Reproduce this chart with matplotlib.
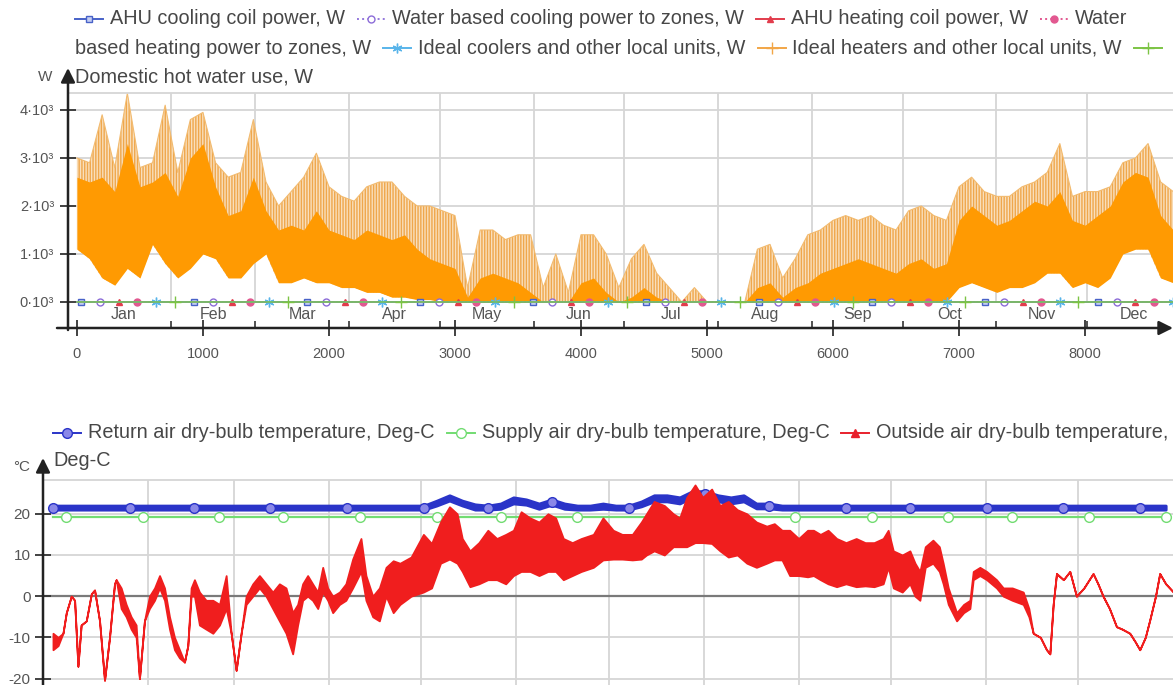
import numpy as np
import matplotlib
matplotlib.use("Agg")
import matplotlib.pyplot as plt
from matplotlib.lines import Line2D
from matplotlib.patches import FancyArrowPatch

plt.rcParams['font.family'] = ['Liberation Sans', 'DejaVu Sans']
plt.rcParams['hatch.linewidth'] = 1.0

# ---------------- data ----------------
months = ['Jan', 'Feb', 'Mar', 'Apr', 'May', 'Jun', 'Jul', 'Aug', 'Sep', 'Oct', 'Nov', 'Dec']
month_start = [0, 744, 1416, 2160, 2880, 3624, 4344, 5088, 5832, 6552, 7296, 8016]
month_mid = [372, 1080, 1788, 2520, 3252, 3984, 4716, 5460, 6192, 6924, 7656, 8388]

hour_ticks = [0, 1000, 2000, 3000, 4000, 5000, 6000, 7000, 8000]
power_ticks = [0, 1000, 2000, 3000, 4000]
power_labels = ['0·10³', '1·10³', '2·10³', '3·10³', '4·10³']
temp_ticks = [-20, -10, 0, 10, 20]
temp_labels = ['-20', '-10', '0', '10', '20']

# sampling grid (hours of year) for the envelopes below
hours = list(range(0, 8800, 100))

# Ideal heaters and other local units, W  (lower edge / dense core top / light peaks)
heat_lo = [1100, 900, 500, 350, 700, 500, 1200, 800, 500, 700,
           1000, 900, 500, 500, 800, 1000, 400, 400, 500, 400,
           400, 300, 300, 200, 200, 100, 100, 50, 50, 0,
           0, 0, 0, 0, 0, 0, 0, 0, 0, 0,
           0, 0, 0, 0, 0, 0, 0, 0, 0, 0,
           0, 0, 0, 0, 0, 0, 0, 0, 0, 0,
           0, 0, 0, 0, 0, 0, 0, 0, 0, 0,
           300, 400, 300, 200, 300, 300, 400, 600, 600, 300,
           400, 300, 500, 1000, 1100, 1100, 500, 400]
heat_core = [2600, 2500, 2600, 2300, 3300, 2400, 2500, 2700, 2200, 3000,
             3300, 2400, 1800, 1900, 2600, 1900, 1500, 1600, 1500, 1900,
             1500, 1400, 1300, 1500, 1400, 1300, 1400, 1100, 900, 800,
             700, 100, 500, 600, 500, 400, 200, 0, 0, 0,
             400, 500, 200, 0, 100, 300, 100, 0, 0, 0,
             0, 0, 0, 0, 300, 400, 100, 300, 400, 600,
             700, 800, 900, 800, 700, 600, 800, 900, 700, 800,
             1700, 2000, 1800, 1600, 1700, 1900, 2100, 2000, 2300, 1700,
             1600, 1800, 2000, 2500, 2700, 2600, 1800, 1500]
heat_peak = [3000, 2900, 3900, 2800, 4350, 2800, 2900, 4100, 2700, 3800,
             3950, 2900, 2600, 2700, 3800, 2500, 2000, 2300, 2600, 3100,
             2400, 2200, 2100, 2400, 2500, 2500, 2200, 2000, 2000, 1900,
             1800, 300, 1500, 1500, 1300, 1400, 1400, 300, 1000, 200,
             1400, 1400, 1000, 300, 900, 1200, 600, 300, 0, 300,
             0, 0, 0, 0, 1100, 1200, 500, 900, 1400, 1500,
             1700, 1800, 1700, 1800, 1600, 1500, 1900, 2000, 1800, 1700,
             2400, 2600, 2300, 2200, 2200, 2400, 2500, 2700, 3300, 2200,
             2300, 2300, 2400, 2900, 3000, 3300, 2500, 2300]

# the other six power series stay at zero all year
hours_year = np.arange(8760)
ahu_cooling = np.zeros(8760)
water_cooling = np.zeros(8760)
ahu_heating = np.zeros(8760)
water_heating = np.zeros(8760)
ideal_coolers = np.zeros(8760)
dhw_use = np.zeros(8760)

# Return air dry-bulb temperature (band)
return_lo = [21.0] * 30 + [22.0, 23.2, 22.0, 21.0, 21.0, 21.2, 22.5, 22.2, 21.2, 22.2,
                           21.2, 21.0, 21.0, 21.2, 21.0, 21.0, 21.8, 23.0, 23.0, 22.5,
                           24.0, 24.0, 23.0, 22.5, 23.0, 21.3, 21.3, 21.0] + [21.0] * 30
return_hi = [22.0] * 30 + [23.2, 24.5, 23.2, 22.3, 22.0, 22.5, 24.0, 23.5, 22.5, 23.5,
                           22.5, 22.0, 22.0, 22.5, 22.0, 22.0, 23.0, 24.5, 24.5, 24.0,
                           25.5, 25.5, 24.5, 24.0, 24.5, 22.5, 22.5, 22.0] + [22.0] * 30
# Supply air dry-bulb temperature
supply = [19.2] * 88

# Outside air dry-bulb temperature (hour, low, high)
out_hours = [0, 40, 78, 104, 143, 169, 195, 220, 260, 300, 325, 364, 403, 442, 481, 494,
             533, 572, 611, 650, 676, 715, 754, 794, 833, 872, 911, 950, 989, 1028, 1054,
             1080, 1106, 1145, 1197, 1250, 1302, 1354, 1393, 1432, 1471, 1510, 1562, 1614,
             1666, 1718, 1770, 1822, 1874, 1913, 1952, 1991, 2030, 2070, 2109, 2148, 2187,
             2240, 2290, 2343, 2408, 2447, 2500, 2552, 2604, 2660, 2713, 2800, 2896, 2960,
             3030, 3100, 3160, 3200, 3260, 3330, 3400, 3470, 3540, 3600, 3660, 3730, 3800,
             3870, 3930, 3990, 4060, 4130, 4225, 4300, 4380, 4450, 4530, 4600, 4640, 4700,
             4780, 4850, 4900, 4955, 5020, 5080, 5150, 5215, 5280, 5350, 5425, 5500, 5580,
             5640, 5700, 5760, 5830, 5900, 5946, 6000, 6060, 6127, 6200, 6280, 6350, 6420,
             6491, 6530, 6570, 6640, 6700, 6740, 6778, 6820, 6880, 6930, 6960, 7000, 7065,
             7120, 7169, 7195, 7247, 7300, 7377, 7430, 7500, 7586, 7630, 7664, 7720, 7768,
             7794, 7820, 7846, 7900, 7950, 8002, 8060, 8132, 8170, 8210, 8260, 8315, 8360,
             8419, 8460, 8497, 8540, 8575, 8620, 8653, 8700, 8760]
out_lo = [-13, -12, -9, -4, 0, -1, -17, -7, -6, 0.6, 1.5, -6, -20.4, -10, 3, 4,
          -3, -5, -8, -10, -20, -6, -3, -1, 2, -1, -8, -13, -15, -16, -12,
          0, 0, -7, -8, -9, -7, -3, -9, -18, -9, -2, 0, 2,
          0, -3, -6, -9, -14, -7, -1, 0, -1, -3, 1, -1, -4,
          -2, -1, 2, 6, -1, -5, -6, 0, -4, -2, 0, 1, 2,
          8, 9, 8, 6, 2.3, 3, 4, 4, 3, 5, 6, 6, 5,
          6, 6, 4, 5, 6, 7, 8.8, 9, 9, 8.8, 9, 10, 11,
          10, 12, 12, 12, 13, 13, 12.8, 11, 9.5, 10, 8, 7, 8,
          8.8, 8.8, 5, 5, 4.7, 5, 4, 3, 2.3, 3, 2.3, 2.5, 2.3,
          3, 7, 2, 1, 3, 0, -1, 7, 8, 6, 3, -2, -6,
          -4, -3, 4, 5, 4, 2, 0, -1, -2, -5, -9, -10, -13,
          -14, -2, 5.5, 4, 6, 0, 2, 5.5, 3, 0, -3, -7.4, -8,
          -9, -11, -13, -10, -5.8, 0, 5.5, 3, 1]
out_hi = [-9, -10, -9, -4, 0, -1, -17, -7, -6, 0.6, 1.5, -6, -20.4, -10, 3, 4,
          2, -2, -5, -7, -20, -6, 0, 2, 5, 2, -5, -10, -13, -16, -12,
          2, 4, 1, -1, -1, -2, 5, -9, -18, -9, 0, 3, 5,
          3, 1, 3, 2, -4, -2, 3, 5, 3, 1, 7, 2, 0,
          1, 3, 9, 14, 5, 0, 2, 7, 8.6, 8, 9.5, 15, 12.8,
          18, 21.7, 20, 14, 11, 13, 16, 14, 15, 16, 20.5, 19, 18,
          20, 19, 14, 13, 14, 15, 19, 16, 15, 15, 18, 20, 23,
          22, 20, 19, 24, 27, 24, 26, 22, 23, 21, 20, 18, 17,
          17.6, 16, 16, 14, 16, 16, 15, 16, 14, 13, 14, 13, 13,
          14, 16, 11, 10, 11, 8, 6, 12, 13.6, 12, 8, 2, -4,
          -2, -1, 6, 7, 6, 4, 2, 2, 1, -3, -9, -10, -13,
          -14, -2, 5.5, 4, 6, 0, 2, 5.5, 3, 0, -3, -7.4, -8,
          -9, -11, -13, -10, -5.8, 0, 5.5, 3, 1]

# ---------------- figure ----------------
W, H = 1173, 685
fig = plt.figure(figsize=(W / 100, H / 100), dpi=100)
fig.patch.set_facecolor('white')


def fx(px):
    return px / W


def fy(py):
    return 1 - py / H


GRID = '#d6d6d6'
TXT = '#474747'
renderer = fig.canvas.get_renderer()

# styles of the series
s_ahu_cool = dict(color='#4862c8', marker='s', mfc='#c4cdf2', mec='#4862c8', ms=5, ls='-')
s_water_cool = dict(color='#9478dc', marker='o', mfc='white', mec='#8c6cd8', ms=5, ls=':')
s_ahu_heat = dict(color='#e23c4c', marker='^', mfc='#e23c4c', mec='#e23c4c', ms=5, ls='-')
s_water_heat = dict(color='#e25890', marker='o', mfc='#e25890', mec='#e25890', ms=5, ls=':')
s_coolers = dict(color='#58b4ea', marker=(6, 2, 0), mec='#58b4ea', ms=7, ls='-')
s_heaters = dict(color='#f2a646', marker='+', mec='#f2a646', ms=8, ls='-')
s_dhw = dict(color='#7cc444', marker='+', mec='#7cc444', ms=8, ls='-')
s_return = dict(color='#2a34c8', marker='o', mfc='#8a88e8', mec='#2a34c8', ms=7, ls='-')
s_supply = dict(color='#72dc72', marker='o', mfc='white', mec='#72dc72', ms=7, ls='-')
s_outside = dict(color='#e8202c', marker='^', mfc='#e8202c', mec='#e8202c', ms=6, ls='-')


def legend_row(x, ypx, parts, fs=14.3):
    y = fy(ypx)
    for st, label in parts:
        if st is not None:
            fig.add_artist(Line2D([fx(x), fx(x + 14), fx(x + 28)], [y, y, y],
                                  transform=fig.transFigure, lw=1.4, markevery=[1], **st))
            x += 35
        if label:
            t = fig.text(fx(x), y, label, fontsize=fs, color=TXT, va='center')
            x = t.get_window_extent(renderer).x1 + 12


def axis_arrow(p0, p1):
    fig.add_artist(FancyArrowPatch((fx(p0[0]), fy(p0[1])), (fx(p1[0]), fy(p1[1])),
                                   transform=fig.transFigure, color='#222222', lw=1.8,
                                   arrowstyle='-|>,head_length=0.7,head_width=0.35',
                                   mutation_scale=12, shrinkA=0, shrinkB=0))


# ---------------- top panel: powers ----------------
legend_row(75, 19, [(s_ahu_cool, 'AHU cooling coil power, W'),
                    (s_water_cool, 'Water based cooling power to zones, W'),
                    (s_ahu_heat, 'AHU heating coil power, W'),
                    (s_water_heat, 'Water')])
legend_row(75, 48, [(None, 'based heating power to zones, W'),
                    (s_coolers, 'Ideal coolers and other local units, W'),
                    (s_heaters, 'Ideal heaters and other local units, W'),
                    (s_dhw, '')])
legend_row(75, 77, [(None, 'Domestic hot water use, W')])

ax1 = fig.add_axes([fx(68), fy(328), fx(1173) - fx(68), (328 - 93) / H])
ax1.set_xlim(-71, 8698)
ax1.set_ylim(-542, 4354)
for sp in ['left', 'right', 'bottom']:
    ax1.spines[sp].set_visible(False)
ax1.spines['top'].set_color(GRID)
ax1.spines['top'].set_linewidth(1.3)

ax1.vlines(month_start[1:], 0, 4354, color=GRID, lw=1.3, zorder=0)
ax1.hlines(power_ticks[1:], -71, 8698, color=GRID, lw=1.3, zorder=0)

# light, stripy hourly peaks and the dense core below them
ax1.fill_between(hours, heat_lo, heat_peak, facecolor='#f9dfbc', edgecolor='#efa74c',
                 hatch='||||||', lw=0, zorder=2)
ax1.plot(hours, heat_peak, color='#f2bb70', lw=0.8, zorder=2)
ax1.fill_between(hours, heat_lo, heat_core, color='#ff9a02', lw=0, zorder=3)

zero_series = [(ahu_cooling, s_ahu_cool), (water_cooling, s_water_cool),
               (ahu_heating, s_ahu_heat), (water_heating, s_water_heat),
               (ideal_coolers, s_coolers), (dhw_use, s_dhw)]
for k, (vals, st) in enumerate(zero_series):
    ax1.plot(hours_year, vals, lw=1.0, markevery=(0.004 + 0.0165 * k, 0.1), zorder=5,
             clip_on=False, **st)

for name, mid in zip(months, month_mid):
    ax1.text(mid, -271, name, ha='center', va='center', fontsize=11.5, color='#555555')

ax1.set_xticks(hour_ticks)
ax1.set_xticks(month_start[1:], minor=True)
ax1.tick_params(axis='x', which='major', direction='inout', length=12, width=1.3,
                color='#333333', labelsize=10.5, labelcolor='#555555', pad=8)
ax1.tick_params(axis='x', which='minor', direction='in', length=5, width=1.2, color='#333333')
ax1.set_yticks(power_ticks, power_labels)
ax1.tick_params(axis='y', direction='inout', length=12, width=1.3, color='#333333',
                labelsize=10.5, labelcolor='#555555', pad=4)

axis_arrow((68, 330), (68, 68))
axis_arrow((57, 328), (1173, 328))
fig.text(fx(45), fy(77), 'W', fontsize=11, color='#555555', ha='center', va='center')

# ---------------- bottom panel: temperatures ----------------
legend_row(53, 433, [(s_return, 'Return air dry-bulb temperature, Deg-C'),
                     (s_supply, 'Supply air dry-bulb temperature, Deg-C'),
                     (s_outside, 'Outside air dry-bulb temperature,')])
legend_row(53, 460, [(None, 'Deg-C')])

ax2 = fig.add_axes([fx(43), fy(700), fx(1173) - fx(43), 220 / H])
ax2.set_xlim(-78, 8757)
ax2.set_ylim(-25.2, 28.2)
for sp in ['left', 'right', 'bottom']:
    ax2.spines[sp].set_visible(False)
ax2.spines['top'].set_color(GRID)
ax2.spines['top'].set_linewidth(1.3)

ax2.vlines(month_start[1:], -25.2, 28.2, color=GRID, lw=1.3, zorder=0)
ax2.hlines([20, 10, -10, -20], -78, 8757, color=GRID, lw=1.3, zorder=0)
ax2.axhline(0, color='#7a7a7a', lw=1.6, zorder=1)

ax2.plot(hours, supply, lw=1.6, markevery=(0.013, 0.0634), zorder=2, **s_supply)
ax2.fill_between(hours, return_lo, return_hi, color='#2a34c8', lw=2.0, zorder=3)
return_mid = (np.array(return_lo) + np.array(return_hi)) / 2
ax2.plot(hours, return_mid, lw=0, markevery=(0.0, 0.0634), zorder=4,
         **{k: v for k, v in s_return.items() if k != 'ls'})
ax2.fill_between(out_hours, out_lo, out_hi, color='#f01e1e', ec='#f01e1e', lw=1.3, zorder=5)

ax2.set_xticks([])
ax2.set_yticks(temp_ticks, temp_labels)
ax2.tick_params(axis='y', direction='inout', length=12, width=1.3, color='#333333',
                labelsize=11, labelcolor='#555555', pad=3)

axis_arrow((43, 690), (43, 458))
fig.text(fx(22), fy(467), '°C', fontsize=11, color='#555555', ha='center', va='center')

fig.savefig('out.png', dpi=100, facecolor='white')
